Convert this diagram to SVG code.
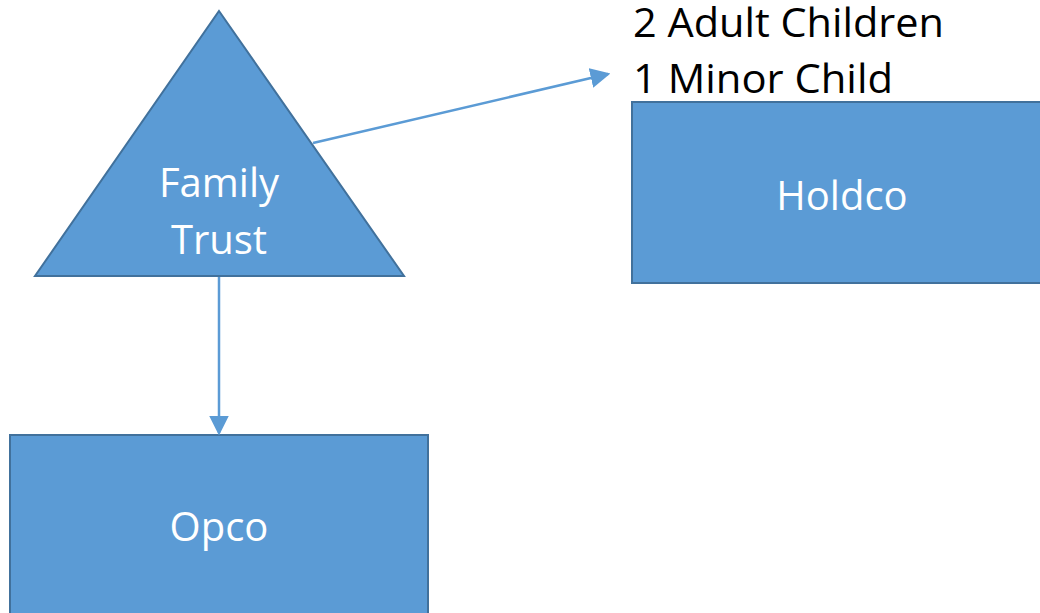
<svg xmlns="http://www.w3.org/2000/svg" width="1040" height="613" viewBox="0 0 1040 613">
<style>
.shape{fill:#5B9BD5;stroke:#41719C;stroke-width:2}
.lbl{font-family:"Open Sans","Liberation Sans",sans-serif;font-size:40px;fill:#FFFFFF;text-anchor:middle}
.note{font-family:"Open Sans","Liberation Sans",sans-serif;font-size:40px;fill:#000000}
.conn{stroke:#5B9BD5;stroke-width:2.5;fill:none}
</style>
<defs>
<marker id="arr" markerWidth="8" markerHeight="8" refX="7" refY="4" orient="auto" markerUnits="strokeWidth">
<path d="M0,0 L8,4 L0,8 Z" fill="#5B9BD5"/>
</marker>
</defs>
<rect width="1040" height="613" fill="#FFFFFF"/>
<g id="trust">
<polygon class="shape" points="219,11 404,276 35,276"/>
<text class="lbl" x="219" y="197">Family</text>
<text class="lbl" x="219" y="254">Trust</text>
</g>
<g id="holdco">
<rect class="shape" x="632" y="102" width="420" height="181"/>
<text class="lbl" x="842" y="210">Holdco</text>
</g>
<g id="opco">
<rect class="shape" x="10" y="435" width="418" height="190"/>
<text class="lbl" x="219" y="541">Opco</text>
</g>
<g id="beneficiaries">
<text class="note" x="633" y="37" textLength="311" lengthAdjust="spacingAndGlyphs">2 Adult Children</text>
<text class="note" x="633" y="93" textLength="260" lengthAdjust="spacingAndGlyphs">1 Minor Child</text>
</g>
<g id="connectors">
<line class="conn" x1="313" y1="143" x2="608" y2="74" marker-end="url(#arr)"/>
<line class="conn" x1="219" y1="277" x2="219" y2="433" marker-end="url(#arr)"/>
</g>
</svg>
